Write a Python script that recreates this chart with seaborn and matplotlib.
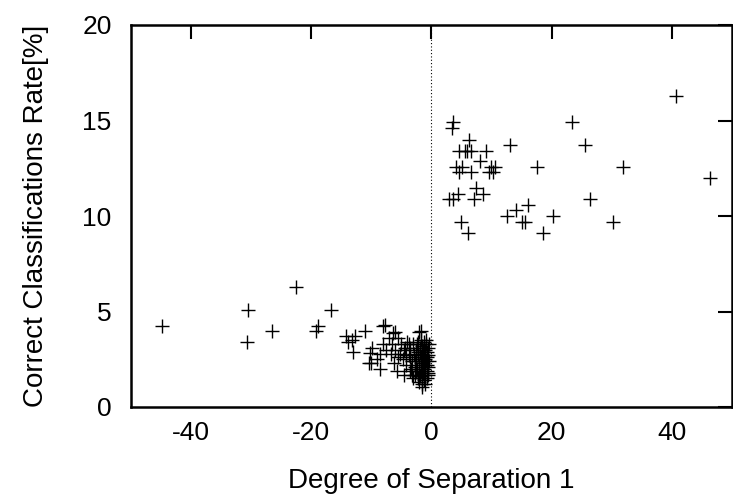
import matplotlib
matplotlib.use("Agg")
import matplotlib.pyplot as plt
import seaborn as sns
import pandas as pd

# Right-hand group (positive separation)
right_x = [40.7, 3.5, 3.4, 23.4, 6.2, 13.0, 25.6,
           4.5, 5.5, 5.9, 6.6, 9.1, 8.0,
           4.1, 5.1, 9.9, 10.6, 17.5, 31.9,
           4.65, 6.5, 9.6, 10.2, 46.4, 7.4, 8.5, 4.4,
           2.9, 3.5, 7.1, 26.4, 16.0, 14.0, 12.5, 20.2,
           4.9, 15.1, 15.6, 30.2, 6.0, 18.5]
right_y = [16.3, 14.9, 14.6, 14.9, 14.0, 13.7, 13.7,
           13.4, 13.4, 13.4, 13.4, 13.4, 12.9,
           12.55, 12.55, 12.55, 12.55, 12.55, 12.55,
           12.3, 12.3, 12.3, 12.3, 12.0, 11.45, 11.15, 11.15,
           10.9, 10.9, 10.9, 10.9, 10.6, 10.3, 10.0, 10.0,
           9.7, 9.7, 9.7, 9.7, 9.1, 9.1]

# Left-hand group (negative separation), sparse part
left_x = [-44.9, -30.5, -30.7, -26.5, -22.5, -16.8, -19.2, -18.8,
          -14.2, -13.9, -12.8, -11.1, -8.1, -7.8, -13.1, -10.4, -8.5,
          -6.4, -1.7, -1.5, -13.2, -10.3, -10.0, -9.9, -6.1, -2.0]
left_y = [4.26, 5.1, 3.4, 4.0, 6.27, 5.1, 4.0, 4.26,
          3.7, 3.42, 3.7, 4.0, 4.26, 4.3, 2.9, 2.3, 2.0,
          3.86, 4.0, 1.06, 3.5, 2.84, 2.3, 3.1, 3.94, 3.94]

# Dense cluster just left of zero
cluster_x = [-7.0, -6.5, -6.0, -5.5, -5.2, -5.0, -4.8, -4.5, -4.3, -4.0,
             -3.8, -3.6, -3.5, -3.3, -3.2, -3.0, -2.9, -2.8, -2.7, -2.6,
             -2.5, -2.4, -2.3, -2.2, -2.1, -2.0, -1.9, -1.9, -1.8, -1.8,
             -1.7, -1.7, -1.6, -1.6, -1.5, -1.5, -1.4, -1.4, -1.3, -1.3,
             -1.2, -1.2, -1.1, -1.1, -1.0, -1.0, -0.9, -0.9, -0.8, -0.8,
             -0.7, -0.7, -0.6, -0.6, -0.5, -0.5, -0.4, -0.4, -1.5, -2.3,
             -3.8, -4.2, -5.6, -6.2, -6.8, -7.5, -8.0, -8.5, -9.0, -5.8,
             -4.6, -3.0, -2.0, -1.0, -1.6, -2.4, -1.2, -0.8, -1.9, -2.8,
             -3.4, -0.6, -1.4, -2.6, -1.1, -0.9, -1.7, -2.2, -3.6, -4.4]
cluster_y = [3.6, 3.3, 3.0, 3.6, 2.8, 3.3, 2.5, 3.0, 2.2, 3.4,
             2.7, 1.9, 3.1, 2.4, 1.7, 3.3, 2.8, 2.1, 1.7, 3.0,
             2.5, 2.0, 3.4, 2.7, 1.6, 2.2, 3.1, 2.9, 2.4, 1.9,
             3.5, 2.6, 2.1, 1.5, 3.2, 2.8, 2.3, 1.8, 3.4, 2.5,
             2.0, 1.4, 3.0, 2.7, 2.2, 1.7, 3.3, 2.4, 1.9, 2.9,
             2.6, 1.5, 3.1, 2.1, 2.7, 1.8, 2.4, 3.3, 1.2, 1.5,
             3.3, 2.7, 2.6, 2.3, 2.8, 3.0, 3.3, 2.8, 2.5, 1.9,
             1.7, 1.5, 1.3, 1.2, 2.6, 3.3, 2.9, 2.2, 1.6, 2.4,
             2.0, 1.7, 3.0, 1.9, 2.5, 3.5, 2.3, 2.9, 2.6, 3.1]

x_ticks = [-40, -20, 0, 20, 40]
y_ticks = [0, 5, 10, 15, 20]

df = pd.DataFrame({
    "x": right_x + left_x + cluster_x,
    "y": right_y + left_y + cluster_y,
})

sns.set_style("white")
plt.rcParams["font.family"] = ["Liberation Sans", "DejaVu Sans"]
plt.rcParams["text.color"] = "black"
plt.rcParams["axes.labelcolor"] = "black"
plt.rcParams["xtick.color"] = "black"
plt.rcParams["ytick.color"] = "black"

fig = plt.figure(figsize=(7.33, 5.0), dpi=100)
ax = fig.add_axes([0.1787, 0.186, 0.8199, 0.764])

ax.axvline(0, color="black", linestyle=(0, (1, 2)), linewidth=0.8, zorder=1)

sns.scatterplot(data=df, x="x", y="y", marker="+", s=110, color="black",
                linewidth=1.0, ax=ax, legend=False, zorder=3)

ax.set_xlim(-50, 50)
ax.set_ylim(0, 20)
ax.set_xticks(x_ticks)
ax.set_yticks(y_ticks)
ax.set_xticklabels([str(t) for t in x_ticks])
ax.set_yticklabels([str(t) for t in y_ticks])

ax.tick_params(axis="both", which="major", direction="in", length=10, width=1.5,
               labelsize=19, top=True, right=True, colors="black",
               labelcolor="black")
ax.tick_params(axis="x", pad=10)
ax.tick_params(axis="y", pad=14)

for side in ["left", "bottom", "top", "right"]:
    ax.spines[side].set_visible(True)
    ax.spines[side].set_color("black")
    ax.spines[side].set_linewidth(1.8)

ax.set_xlabel("Degree of Separation 1", fontsize=20, labelpad=17, color="black")
ax.set_ylabel("Correct Classifications Rate[%]", fontsize=20, labelpad=24,
              color="black")
ax.grid(False)

fig.savefig("out.png", dpi=100)
